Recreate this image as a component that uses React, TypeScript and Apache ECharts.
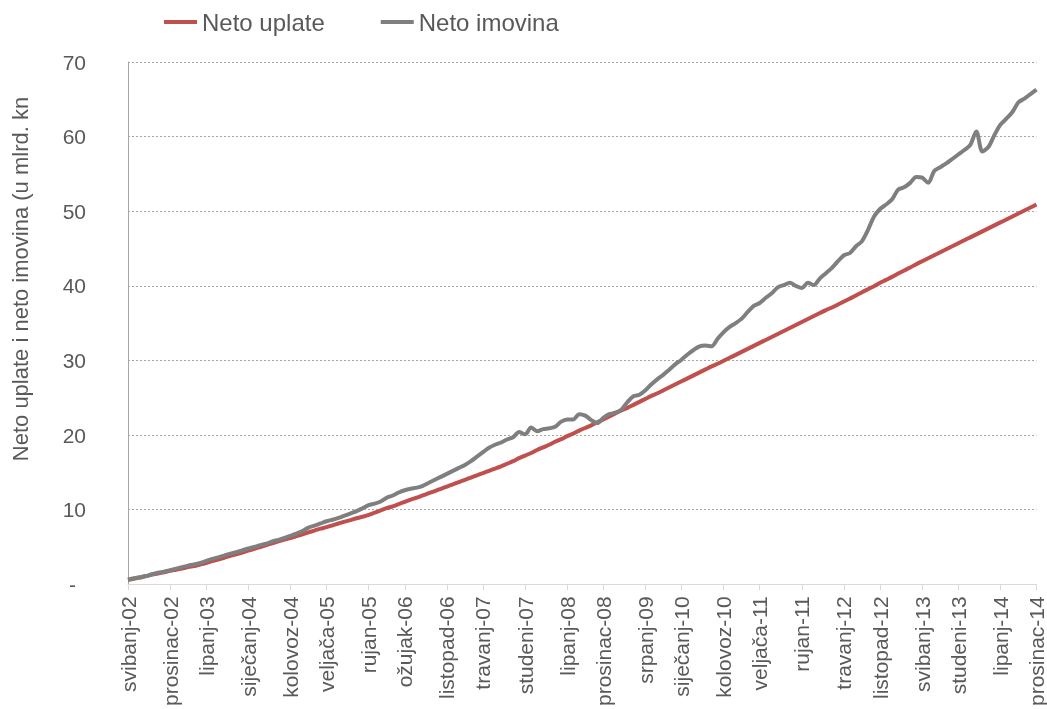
import React, { useEffect, useRef } from 'react';
import * as echarts from 'echarts';

const MONTH_NAMES = ['siječanj', 'veljača', 'ožujak', 'travanj', 'svibanj', 'lipanj', 'srpanj', 'kolovoz', 'rujan', 'listopad', 'studeni', 'prosinac'];
const START_YEAR = 2002;
const START_MONTH = 4; // svibanj
const MONTH_COUNT = 152;

const categories: string[] = [];
for (let i = 0; i < MONTH_COUNT; i++) {
  const mi = START_MONTH + i;
  const yr = START_YEAR + Math.floor(mi / 12);
  categories.push(`${MONTH_NAMES[mi % 12]}-${String(yr % 100).padStart(2, '0')}`);
}

const TICK_LABELS = ['svibanj-02', 'prosinac-02', 'lipanj-03', 'siječanj-04', 'kolovoz-04', 'veljača-05', 'rujan-05', 'ožujak-06', 'listopad-06', 'travanj-07', 'studeni-07', 'lipanj-08', 'prosinac-08', 'srpanj-09', 'siječanj-10', 'kolovoz-10', 'veljača-11', 'rujan-11', 'travanj-12', 'listopad-12', 'svibanj-13', 'studeni-13', 'lipanj-14', 'prosinac-14'];

const SERIES_NAMES = ['Neto uplate', 'Neto imovina'];
const Y_TITLE = 'Neto uplate i neto imovina (u mlrd. kn';

const netoUplate = [
  0.6, 0.75, 0.9, 1.1, 1.3, 1.45, 1.6, 1.8, 1.95, 2.1, 2.3, 2.45, 2.65, 2.85,
  3.1, 3.3, 3.55, 3.8, 4.0, 4.25, 4.5, 4.75, 5.0, 5.25, 5.5, 5.75, 6.0,
  6.2, 6.45, 6.7, 6.95, 7.2, 7.45, 7.65, 7.9, 8.15, 8.4, 8.6, 8.85, 9.05, 9.3,
  9.6, 9.9, 10.2, 10.45, 10.75, 11.05, 11.35, 11.6, 11.9, 12.2, 12.5, 12.8, 13.1,
  13.4, 13.7, 14.0, 14.3, 14.6, 14.9, 15.2, 15.5, 15.8,
  16.15, 16.5, 16.9, 17.25, 17.6, 18.0, 18.35, 18.7, 19.1, 19.45, 19.85, 20.2, 20.6, 20.95, 21.3, 21.7,
  22.1, 22.5, 22.9, 23.3, 23.65, 24.05, 24.45, 24.85, 25.25, 25.6, 26.0, 26.4, 26.8, 27.2,
  27.6, 28.0, 28.4, 28.8, 29.2, 29.55, 29.95, 30.35, 30.75, 31.15, 31.55, 31.95, 32.35, 32.75, 33.15, 33.55, 33.95, 34.35, 34.75, 35.15, 35.55, 35.95, 36.35, 36.75, 37.1, 37.5, 37.9,
  38.3, 38.7, 39.15, 39.55, 39.95, 40.4, 40.8, 41.2, 41.65, 42.05, 42.45, 42.9, 43.3,
  43.7, 44.1, 44.5, 44.9, 45.3, 45.7, 46.1, 46.5, 46.9, 47.3, 47.7, 48.1, 48.5, 48.9, 49.3, 49.7, 50.1, 50.5, 50.9,
];

const netoImovina = [
  0.6, 0.8, 0.95, 1.1, 1.35, 1.55, 1.7, 1.9, 2.1, 2.3, 2.5, 2.65, 2.85, 3.15,
  3.4, 3.6, 3.85, 4.1, 4.3, 4.55, 4.8, 5.0, 5.25, 5.45, 5.75, 5.95, 6.2,
  6.5, 6.8, 7.15, 7.6, 7.85, 8.15, 8.45, 8.65, 8.9, 9.2, 9.5, 9.8, 10.2, 10.6,
  10.8, 11.1, 11.6, 11.9, 12.3, 12.6, 12.8, 12.95, 13.2, 13.6, 14.0, 14.4, 14.8,
  15.2, 15.6, 16.0, 16.5, 17.1, 17.7, 18.3, 18.7, 19.0,
  19.4, 19.7, 20.4, 20.1, 21.0, 20.5, 20.8, 20.9, 21.1, 21.8, 22.1, 22.1, 22.8, 22.6, 22.0, 21.6,
  22.3, 22.8, 23.0, 23.4, 24.4, 25.2, 25.4, 26.0, 26.8, 27.5, 28.1, 28.8, 29.5, 30.1,
  30.8, 31.4, 31.9, 32.0, 31.9, 32.9, 33.8, 34.5, 35.0, 35.6, 36.5, 37.3, 37.7, 38.4, 39.0, 39.8, 40.1, 40.4, 40.0, 39.7, 40.4, 40.1, 41.0, 41.7, 42.4, 43.3, 44.1,
  44.4, 45.3, 46.0, 47.5, 49.3, 50.3, 50.9, 51.6, 52.9, 53.2, 53.8, 54.6, 54.5,
  53.8, 55.4, 55.9, 56.4, 57.0, 57.6, 58.2, 58.9, 60.7, 58.0, 58.6, 60.2, 61.6, 62.4, 63.3, 64.6, 65.1, 65.7, 66.3,
];

const Y_MIN = 0;
const Y_MAX = 70;
const Y_STEP = 10;

const FONT = '"Liberation Sans", Arial, sans-serif';
const TEXT_COLOR = '#595959';

export default function App() {
  const ref = useRef<HTMLDivElement>(null);

  useEffect(() => {
    if (!ref.current) return;
    const chart = echarts.init(ref.current, undefined, { renderer: 'svg' });
    const showTick = (_i: number, v: string) => TICK_LABELS.includes(v);
    chart.setOption({
      animation: false,
      textStyle: { fontFamily: FONT },
      legend: {
        data: SERIES_NAMES,
        left: 164,
        top: 10,
        padding: 0,
        icon: 'rect',
        itemWidth: 33,
        itemHeight: 4,
        itemGap: 56,
        textStyle: { fontSize: 24, color: TEXT_COLOR, fontFamily: FONT },
      },
      grid: { left: 128, right: 5, top: 62, bottom: 124, containLabel: false },
      xAxis: {
        type: 'category',
        data: categories,
        boundaryGap: false,
        axisLine: { show: true, lineStyle: { color: '#D9D9D9', width: 1 } },
        axisTick: { show: true, interval: showTick, length: 6, lineStyle: { color: '#D9D9D9' } },
        axisLabel: {
          interval: showTick,
          rotate: 90,
          margin: 12,
          fontSize: 21,
          color: TEXT_COLOR,
          fontFamily: FONT,
        },
        splitLine: { show: false },
      },
      yAxis: {
        type: 'value',
        min: Y_MIN,
        max: Y_MAX,
        interval: Y_STEP,
        axisLine: { show: true, lineStyle: { color: '#A6A6A6', width: 1 } },
        axisTick: { show: false },
        axisLabel: {
          margin: 42,
          fontSize: 21,
          color: TEXT_COLOR,
          fontFamily: FONT,
          formatter: (v: number) => (v === 0 ? '{dash|-}' : String(v)),
          rich: { dash: { fontSize: 21, color: TEXT_COLOR, fontFamily: FONT, padding: [0, 10, 0, 0] } },
        },
        splitLine: { show: true, lineStyle: { color: '#A6A6A6', type: [2, 2], width: 1 } },
      },
      graphic: [
        {
          type: 'text',
          x: 20,
          y: 279,
          rotation: Math.PI / 2,
          style: {
            text: Y_TITLE,
            fontSize: 22,
            fontFamily: FONT,
            fill: TEXT_COLOR,
            align: 'center',
            verticalAlign: 'middle',
          },
        },
      ],
      series: [
        {
          name: SERIES_NAMES[0],
          type: 'line',
          data: netoUplate,
          showSymbol: false,
          smooth: 0.3,
          lineStyle: { color: '#C0504D', width: 4 },
          itemStyle: { color: '#C0504D' },
        },
        {
          name: SERIES_NAMES[1],
          type: 'line',
          data: netoImovina,
          showSymbol: false,
          smooth: 0.3,
          lineStyle: { color: '#7F7F7F', width: 4 },
          itemStyle: { color: '#7F7F7F' },
        },
      ],
    });
    return () => chart.dispose();
  }, []);

  return <div ref={ref} style={{ position: 'fixed', left: 0, top: 0, width: 1047, height: 709 }} />;
}
